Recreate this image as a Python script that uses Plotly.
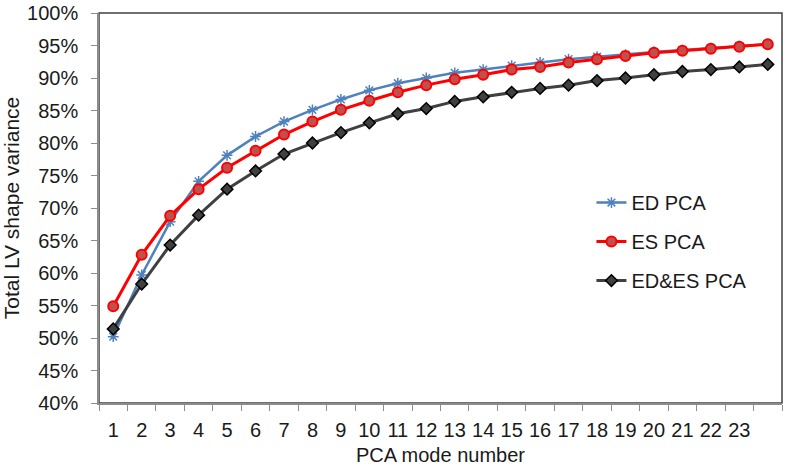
import plotly.graph_objects as go

# PCA mode numbers (24 modes, only 1..23 are labelled on the axis)
modes = list(range(1, 25))
tick_labels = [str(m) for m in range(1, 24)]
y_ticks = list(range(40, 101, 5))
y_tick_labels = [f"{v}%" for v in y_ticks]

ed_pca = [50.2, 59.7, 67.9, 74.1, 78.1, 81.0, 83.3, 85.1, 86.7, 88.1, 89.2,
          90.0, 90.8, 91.3, 91.9, 92.4, 92.9, 93.3, 93.6, 94.0, 94.3, 94.6, 94.9, 95.2]
es_pca = [54.9, 62.8, 68.8, 72.9, 76.2, 78.8, 81.3, 83.3, 85.1, 86.5, 87.8,
          88.9, 89.8, 90.5, 91.3, 91.7, 92.4, 92.9, 93.4, 93.9, 94.2, 94.5, 94.8, 95.2]
edes_pca = [51.4, 58.3, 64.3, 68.9, 72.9, 75.7, 78.3, 80.0, 81.6, 83.1, 84.5,
            85.3, 86.4, 87.1, 87.8, 88.4, 88.9, 89.6, 90.0, 90.5, 91.0, 91.3, 91.7, 92.1]

font = "Liberation Sans, Arial, sans-serif"

fig = go.Figure()
fig.add_trace(go.Scatter(
    x=modes, y=ed_pca, name="ED PCA", mode="lines+markers", legendgroup="a",
    line=dict(color="#4F81BD", width=2.5),
    marker=dict(symbol="asterisk-open", size=9, color="#4F81BD",
                line=dict(color="#4F81BD", width=1.5))))
fig.add_trace(go.Scatter(
    x=modes, y=es_pca, name="ES PCA", mode="lines+markers", legendgroup="b",
    line=dict(color="#FF0000", width=3),
    marker=dict(symbol="circle", size=10, color="#C0504D",
                line=dict(color="#FF0000", width=2))))
fig.add_trace(go.Scatter(
    x=modes, y=edes_pca, name="ED&ES PCA", mode="lines+markers", legendgroup="c",
    line=dict(color="#404040", width=3),
    marker=dict(symbol="diamond", size=9, color="#404040",
                line=dict(color="#000000", width=1.5))))

fig.update_layout(
    width=788, height=473,
    margin=dict(l=99, r=6, t=13, b=70),
    plot_bgcolor="white", paper_bgcolor="white",
    font=dict(family=font, size=20, color="#1a1a1a"),
    legend=dict(x=0.721, y=0.564, xanchor="left", yanchor="top",
                font=dict(size=20), tracegroupgap=10,
                bgcolor="rgba(0,0,0,0)"),
    shapes=[dict(type="rect", xref="paper", yref="paper", x0=0, x1=1, y0=0, y1=1,
                 line=dict(color="#404040", width=1.5), layer="below")],
)
fig.update_xaxes(
    range=[0.5, 24.5], tickmode="array", tickvals=list(range(1, 24)), ticktext=tick_labels,
    ticks="", showline=True, linecolor="#8c8c8c", linewidth=1.5, showgrid=False,
    zeroline=False, tickfont=dict(size=20), automargin=False, ticklabelstandoff=8,
    minor=dict(ticks="outside", tick0=0.5, dtick=1, ticklen=6, tickcolor="#8c8c8c",
               tickwidth=1, showgrid=False),
    title=dict(text="PCA mode number", font=dict(size=20), standoff=8))
fig.update_yaxes(
    range=[40, 100], tickmode="array", tickvals=y_ticks, ticktext=y_tick_labels,
    ticks="outside", ticklen=6, tickcolor="#8c8c8c", ticklabelstandoff=9,
    showline=True, linecolor="#8c8c8c", linewidth=1.5, showgrid=False,
    zeroline=False, tickfont=dict(size=20), automargin=False,
    title=dict(text="Total LV shape variance", font=dict(size=21), standoff=11))

# drop the default 8px body margin so the figure fills the window
fig.write_html("out.html", config={"displayModeBar": False},
               post_script="document.body.style.margin = '0';")
